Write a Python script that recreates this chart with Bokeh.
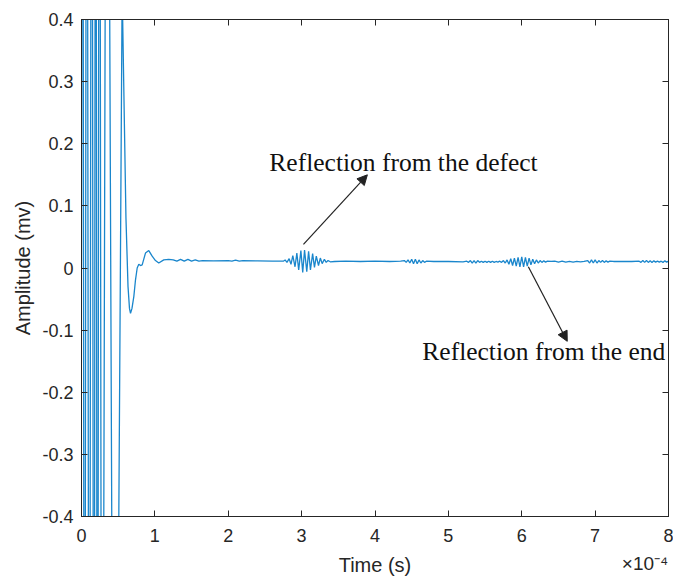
from bokeh.plotting import figure
from bokeh.models import (Range1d, LinearAxis, FixedTicker, CustomJSTickFormatter,
                          Label, Arrow, NormalHead, ColumnDataSource)
from bokeh.embed import file_html
from bokeh.resources import INLINE

# ---- data: time in units of 1e-4 s, amplitude in mv ----
time_ringing = [0.0, 0.014, 0.041, 0.072, 0.106, 0.139, 0.170, 0.193, 0.218, 0.243,
                0.279, 0.347, 0.450, 0.554]
amp_ringing = [0.0, 1.5, -1.5, 1.5, -1.5, 1.5, -1.5, 1.5, -1.5, 1.5,
               -1.5, 1.5, -1.5, 0.45]

time_decay = [0.606, 0.634, 0.654, 0.668, 0.688, 0.713, 0.736, 0.759, 0.781, 0.804,
              0.827, 0.872, 0.917, 0.963, 1.008, 1.053, 1.121, 1.189]
amp_decay = [0.08, -0.03, -0.065, -0.073, -0.065, -0.046, -0.019, 0.0, 0.006, 0.004,
             0.005, 0.024, 0.028, 0.019, 0.012, 0.008, 0.013, 0.014]

time_base1 = [1.25, 1.30, 1.35, 1.40, 1.45, 1.50, 1.55, 1.60, 1.65, 1.80,
              2.00, 2.05, 2.10, 2.15, 2.20, 2.40, 2.60, 2.72]
amp_base1 = [0.013, 0.011, 0.014, 0.011, 0.014, 0.011, 0.013, 0.011, 0.012, 0.0115,
             0.012, 0.011, 0.0125, 0.011, 0.012, 0.0115, 0.011, 0.011]

time_defect = [2.75, 2.775, 2.80, 2.83, 2.855, 2.88, 2.91, 2.935, 2.96, 2.99,
               3.015, 3.04, 3.07, 3.095, 3.12, 3.15, 3.175, 3.20, 3.23, 3.255,
               3.28, 3.31, 3.335, 3.36, 3.39]
amp_defect = [0.011, 0.013, 0.009, 0.015, 0.006, 0.020, 0.002, 0.024, -0.003, 0.028,
              -0.007, 0.029, -0.006, 0.027, -0.003, 0.023, 0.001, 0.019, 0.004, 0.016,
              0.007, 0.014, 0.009, 0.012, 0.010]

time_base2 = [3.45, 3.60, 3.80, 4.00, 4.20, 4.35,
              4.40, 4.425, 4.45, 4.475, 4.50, 4.525, 4.55, 4.575, 4.60, 4.625, 4.65, 4.675, 4.70,
              4.80, 5.00, 5.20,
              5.25, 5.275, 5.30, 5.325, 5.35, 5.375, 5.40, 5.425, 5.45, 5.475, 5.50, 5.525,
              5.55, 5.575, 5.60, 5.625, 5.65, 5.675, 5.70, 5.725, 5.75]
amp_base2 = [0.0105, 0.011, 0.0105, 0.011, 0.0105, 0.011,
             0.012, 0.009, 0.013, 0.008, 0.014, 0.007, 0.014, 0.007, 0.013, 0.008, 0.012, 0.009, 0.011,
             0.0105, 0.0105, 0.010,
             0.011, 0.009, 0.012, 0.008, 0.012, 0.008, 0.012, 0.009, 0.011, 0.009, 0.011, 0.009,
             0.011, 0.009, 0.011, 0.009, 0.0105, 0.0095, 0.011, 0.009, 0.012]

time_end = [5.775, 5.80, 5.825, 5.85, 5.875, 5.90, 5.925, 5.95, 5.975, 6.00,
            6.025, 6.05, 6.075, 6.10, 6.125, 6.15, 6.175, 6.20, 6.225, 6.25,
            6.275, 6.30, 6.325, 6.35]
amp_end = [0.008, 0.013, 0.006, 0.015, 0.004, 0.016, 0.003, 0.017, 0.002, 0.018,
           0.002, 0.017, 0.003, 0.016, 0.005, 0.014, 0.007, 0.013, 0.008, 0.012,
           0.009, 0.0115, 0.0095, 0.011]

time_tail = [6.40, 6.45, 6.50, 6.55, 6.60, 6.65, 6.70, 6.75, 6.80, 6.85,
             6.90, 6.925, 6.95, 6.975, 7.00, 7.025, 7.05, 7.075, 7.10, 7.125,
             7.15, 7.175, 7.20, 7.25, 7.30, 7.40, 7.50,
             7.60, 7.625, 7.65, 7.675, 7.70, 7.725, 7.75, 7.775, 7.80, 7.825,
             7.85, 7.875, 7.90, 7.925, 7.95, 7.975, 8.00]
amp_tail = [0.0105, 0.011, 0.0095, 0.011, 0.0095, 0.0105, 0.0095, 0.0105, 0.010, 0.0105,
            0.012, 0.008, 0.013, 0.008, 0.013, 0.008, 0.012, 0.009, 0.012, 0.009,
            0.0115, 0.0095, 0.011, 0.0105, 0.0105, 0.0105, 0.0105,
            0.011, 0.009, 0.012, 0.009, 0.012, 0.009, 0.0115, 0.009, 0.0115, 0.0095,
            0.011, 0.0095, 0.011, 0.009, 0.0115, 0.0095, 0.011]

x_ticks = [0, 1, 2, 3, 4, 5, 6, 7, 8]
y_ticks = [-0.4, -0.3, -0.2, -0.1, 0.0, 0.1, 0.2, 0.3, 0.4]
exponent_pos = [7.68]          # where the axis multiplier sits, in axis units
exponent_text = "\u00d710\u207b\u2074"

time_all = time_ringing + time_decay + time_base1 + time_defect + time_base2 + time_end + time_tail
amp_all = amp_ringing + amp_decay + amp_base1 + amp_defect + amp_base2 + amp_end + amp_tail

AX = "#262626"
LINE = "#1a86cc"
SANS = "Liberation Sans"
SERIF = "Liberation Serif"

p = figure(width=673, height=578, output_backend="svg", toolbar_location=None,
           x_range=Range1d(0, 8), y_range=Range1d(-0.4, 0.4),
           min_border_left=81, min_border_right=5, min_border_top=19, min_border_bottom=60,
           background_fill_color="white", border_fill_color="white")
p.grid.visible = False
p.outline_line_color = AX
p.outline_line_width = 1

src = ColumnDataSource(dict(t=time_all, a=amp_all))
p.line("t", "a", source=src, line_color=LINE, line_width=1.3)

fmt = CustomJSTickFormatter(code="return String(Number(tick.toFixed(1)));")
blank = CustomJSTickFormatter(code="return '';")

for ax in [p.xaxis[0], p.yaxis[0]]:
    ax.major_tick_in = 6
    ax.major_tick_out = 0
    ax.minor_tick_in = 0
    ax.minor_tick_out = 0
    ax.axis_line_color = AX
    ax.major_tick_line_color = AX
    ax.major_label_text_color = AX
    ax.major_label_text_font = SANS
    ax.major_label_text_font_size = "18px"
    ax.axis_label_text_font = SANS
    ax.axis_label_text_font_size = "20px"
    ax.axis_label_text_font_style = "normal"
    ax.axis_label_text_color = AX
    ax.formatter = fmt

p.xaxis[0].ticker = FixedTicker(ticks=x_ticks)
p.yaxis[0].ticker = FixedTicker(ticks=y_ticks)
p.xaxis[0].axis_label = "Time (s)"
p.yaxis[0].axis_label = "Amplitude (mv)"
p.xaxis[0].major_label_standoff = 12
p.xaxis[0].axis_label_standoff = 9
p.yaxis[0].major_label_standoff = 8
p.yaxis[0].axis_label_standoff = 5

top = LinearAxis(ticker=FixedTicker(ticks=x_ticks), formatter=blank,
                 major_tick_in=6, major_tick_out=0, minor_tick_in=0, minor_tick_out=0,
                 major_label_standoff=0, axis_line_color=AX, major_tick_line_color=AX)
right = LinearAxis(ticker=FixedTicker(ticks=y_ticks), formatter=blank,
                   major_tick_in=6, major_tick_out=0, minor_tick_in=0, minor_tick_out=0,
                   major_label_standoff=0, axis_line_color=AX, major_tick_line_color=AX)
p.add_layout(top, "above")
p.add_layout(right, "right")

# axis multiplier (x 10^-4) drawn as the tick label of a bare extra axis below
expo = LinearAxis(ticker=FixedTicker(ticks=exponent_pos),
                  formatter=CustomJSTickFormatter(code="return '%s';" % exponent_text),
                  major_tick_in=0, major_tick_out=0, minor_tick_in=0, minor_tick_out=0,
                  axis_line_color=None, major_tick_line_color=None,
                  major_label_standoff=-26, major_label_text_font=SANS,
                  major_label_text_font_size="19px", major_label_text_color=AX)
p.add_layout(expo, "below")

# annotations
p.add_layout(Label(x=2.56, y=0.147, text="Reflection from the defect", text_font=SERIF,
                   text_font_size="25.5px", text_color="#111111"))
p.add_layout(Label(x=4.645, y=-0.157, text="Reflection from the end", text_font=SERIF,
                   text_font_size="25.5px", text_color="#111111"))
p.add_layout(Arrow(x_start=3.025, y_start=0.038, x_end=3.896, y_end=0.15,
                   line_color="#222222", line_width=1.2,
                   end=NormalHead(size=10, fill_color="#222222", line_color="#222222")))
p.add_layout(Arrow(x_start=6.09, y_start=0.002, x_end=6.62, y_end=-0.118,
                   line_color="#222222", line_width=1.2,
                   end=NormalHead(size=10, fill_color="#222222", line_color="#222222")))

open("out.html", "w").write(file_html(p, INLINE))
